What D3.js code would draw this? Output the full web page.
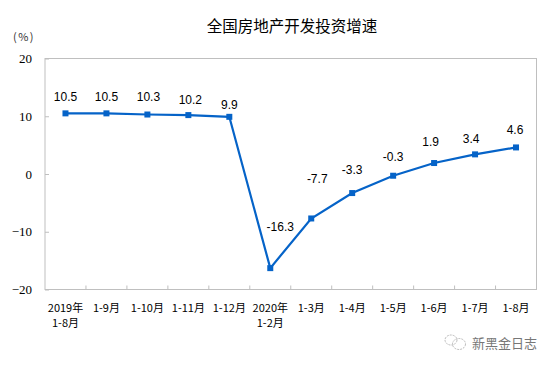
<!DOCTYPE html>
<html>
<head>
<meta charset="utf-8">
<script src="https://cdn.jsdelivr.net/npm/d3@7"></script>
<style>
  html, body { margin: 0; padding: 0; background: #fff; }
  svg { display: block; }
</style>
</head>
<body>
<div class="canva"></div>
<script>
const categories = ['2019年\n1-8月', '1-9月', '1-10月', '1-11月', '1-12月', '2020年\n1-2月',
                    '1-3月', '1-4月', '1-5月', '1-6月', '1-7月', '1-8月'];
const growth = [10.5, 10.5, 10.3, 10.2, 9.9, -16.3, -7.7, -3.3, -0.3, 1.9, 3.4, 4.6];
const yTicks = [-20, -10, 0, 10, 20];

const width = 554;
const height = 367;
const margin = {top: 58.5, right: 17.5, bottom: 77.5, left: 45};
const graphWidth = width - margin.left - margin.right;
const graphHeight = height - margin.top - margin.bottom;

const lineColor = '#0563c8';
const axisColor = '#bfbfbf';
const cjk = '"Noto Sans CJK SC", sans-serif';

// hand placed in the original chart, so nudge each label from its point
const labelDx = [0, 0, 1, 2, 0, 10, 6, 0, 0, -3.5, -4, -1];
const labelDy = [-17, -17, -18, -15, -12, -41, -40, -23, -19, -21, -16, -18];

const svg = d3.select('.canva').append('svg')
  .attr('width', width)
  .attr('height', height);

const graph = svg.append('g')
  .attr('transform', `translate(${margin.left},${margin.top})`);

const x = d3.scaleBand().domain(categories).range([0, graphWidth]);
const y = d3.scaleLinear().domain([-20, 20]).range([graphHeight, 0]);

// frame
graph.append('rect')
  .attr('width', graphWidth)
  .attr('height', graphHeight)
  .attr('fill', 'none')
  .attr('stroke', axisColor);

// y axis
const yAxis = graph.append('g')
  .call(d3.axisLeft(y).tickValues(yTicks).tickSize(-4).tickPadding(13));
yAxis.select('.domain').remove();
yAxis.selectAll('line').attr('stroke', axisColor);
yAxis.selectAll('text')
  .attr('font-family', '"Liberation Serif", serif')
  .attr('font-size', 13)
  .attr('fill', '#000');

// x axis, ticks sit between categories
const xAxis = graph.append('g')
  .attr('transform', `translate(0,${graphHeight})`)
  .call(d3.axisBottom(x).tickSize(0).tickFormat(''));
xAxis.select('.domain').remove();

graph.selectAll('.band-tick')
  .data(categories.slice(1))
  .enter().append('line')
  .attr('class', 'band-tick')
  .attr('x1', d => x(d))
  .attr('x2', d => x(d))
  .attr('y1', graphHeight - 4)
  .attr('y2', graphHeight)
  .attr('stroke', axisColor);

xAxis.selectAll('.tick text')
  .data(categories)
  .each(function(d) {
    const t = d3.select(this).text(null)
      .attr('y', 0)
      .attr('dy', 0)
      .attr('font-family', cjk)
      .attr('font-size', 11)
      .attr('fill', '#000');
    d.split('\n').forEach((part, i) => {
      t.append('tspan')
        .attr('x', 0)
        .attr('y', 22 + i * 15)
        .text(part);
    });
  });

// line and markers
const line = d3.line()
  .x((d, i) => x(categories[i]) + x.bandwidth() / 2)
  .y(d => y(d));

graph.append('path')
  .datum(growth)
  .attr('d', line)
  .attr('fill', 'none')
  .attr('stroke', lineColor)
  .attr('stroke-width', 2.2);

graph.selectAll('.marker')
  .data(growth)
  .enter().append('rect')
  .attr('class', 'marker')
  .attr('x', (d, i) => x(categories[i]) + x.bandwidth() / 2 - 3)
  .attr('y', d => y(d) - 3)
  .attr('width', 6)
  .attr('height', 6)
  .attr('fill', lineColor);

graph.selectAll('.value')
  .data(growth)
  .enter().append('text')
  .attr('class', 'value')
  .attr('x', (d, i) => x(categories[i]) + x.bandwidth() / 2 + labelDx[i])
  .attr('y', (d, i) => y(d) + labelDy[i])
  .attr('dy', '0.35em')
  .attr('text-anchor', 'middle')
  .attr('font-family', '"Liberation Sans", Arial, sans-serif')
  .attr('font-size', 12)
  .attr('fill', '#000')
  .text(d => d);

// title and unit
svg.append('text')
  .attr('x', 292)
  .attr('y', 32)
  .attr('text-anchor', 'middle')
  .attr('font-family', cjk)
  .attr('font-size', 15.5)
  .attr('fill', '#000')
  .text('全国房地产开发投资增速');

svg.append('text')
  .attr('x', 24)
  .attr('y', 41)
  .attr('text-anchor', 'middle')
  .attr('font-family', cjk)
  .attr('font-size', 11)
  .attr('letter-spacing', 1.5)
  .attr('fill', '#333')
  .text('(%)');

// watermark
const mark = svg.append('g')
  .attr('fill', 'none')
  .attr('stroke', '#aaa')
  .attr('stroke-width', 0.8)
  .attr('stroke-dasharray', '2 1');
mark.append('ellipse').attr('cx', 451).attr('cy', 340).attr('rx', 6).attr('ry', 5);
mark.append('ellipse').attr('cx', 459).attr('cy', 344).attr('rx', 6.5).attr('ry', 5.5);

svg.append('text')
  .attr('x', 537)
  .attr('y', 348)
  .attr('text-anchor', 'end')
  .attr('font-family', cjk)
  .attr('font-size', 13)
  .attr('fill', '#777')
  .text('新黑金日志');
</script>
</body>
</html>
